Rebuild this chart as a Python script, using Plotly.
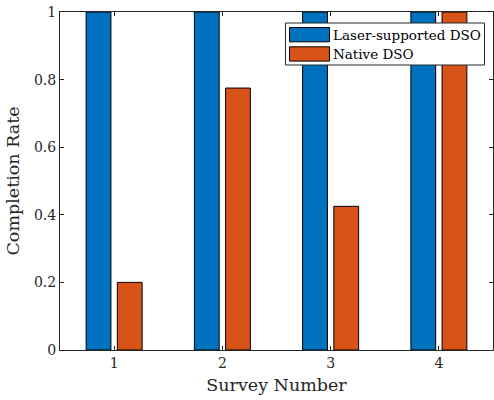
import plotly.graph_objects as go

surveys = [1, 2, 3, 4]
series_names = ["Laser-supported DSO", "Native DSO"]
laser_dso = [1.0, 1.0, 1.0, 1.0]
native_dso = [0.2, 0.775, 0.425, 1.0]
y_ticks = [0, 0.2, 0.4, 0.6, 0.8, 1]
y_ticklabels = ["0", "0.2", "0.4", "0.6", "0.8", "1"]
colors = ["#0072BD", "#D95319"]

W, H = 494, 400
L, R, T, B = 60, 1, 12, 50
FONT = "'DejaVu Serif', serif"
TXT = "#262626"

fig = go.Figure()
for name, vals, col in zip(series_names, [laser_dso, native_dso], colors):
    fig.add_trace(go.Bar(x=surveys, y=vals, name=name, marker_color=col,
                         marker_line_color="#000000", marker_line_width=1,
                         showlegend=False, hoverinfo="skip"))

def px2x(p):
    return (p - L) / (W - L - R)

def py2y(p):
    return 1 - (p - T) / (H - T - B)

shapes = []
annotations = []
shapes.append(dict(type="rect", xref="paper", yref="paper",
                   x0=px2x(285.5), x1=px2x(484.5), y0=py2y(65), y1=py2y(23),
                   fillcolor="white", line=dict(color="#262626", width=1), layer="above"))
for i, (name, col) in enumerate(zip(series_names, colors)):
    top = 27.5 + i * 19.3
    shapes.append(dict(type="rect", xref="paper", yref="paper",
                       x0=px2x(289.5), x1=px2x(329.5), y0=py2y(top + 14.3), y1=py2y(top),
                       fillcolor=col, line=dict(color="#000000", width=1), layer="above"))
    annotations.append(dict(xref="paper", yref="paper", x=px2x(331), y=py2y(top + 7.2),
                            text=name, showarrow=False, xanchor="left", yanchor="middle",
                            font=dict(family=FONT, size=13.5, color="#000000")))

fig.update_layout(
    width=W, height=H,
    margin=dict(l=L, r=R, t=T, b=B, autoexpand=False),
    paper_bgcolor="white", plot_bgcolor="white",
    barmode="group", bargap=0.424, bargroupgap=0.205,
    font=dict(family=FONT, size=14, color=TXT),
    shapes=shapes, annotations=annotations,
    xaxis=dict(range=[0.5, 4.5], tickvals=surveys, ticktext=[str(s) for s in surveys],
               ticks="inside", ticklen=4, tickcolor=TXT, showline=True, linecolor=TXT,
               linewidth=1, mirror="allticks", showgrid=False, zeroline=False,
               automargin=False,
               title=dict(text="Survey Number", font=dict(family=FONT, size=17.5, color=TXT), standoff=8),
               tickfont=dict(family=FONT, size=14, color=TXT)),
    yaxis=dict(range=[0, 1], tickvals=y_ticks, ticktext=y_ticklabels,
               ticks="inside", ticklen=4, tickcolor=TXT, showline=True, linecolor=TXT,
               linewidth=1, mirror="allticks", showgrid=False, zeroline=False,
               automargin=False,
               title=dict(text="Completion Rate", font=dict(family=FONT, size=17.5, color=TXT), standoff=9),
               tickfont=dict(family=FONT, size=14, color=TXT)),
)

fig.write_html("out.html", config={"displayModeBar": False},
               post_script="document.body.style.margin='0';document.body.style.padding='0';")
